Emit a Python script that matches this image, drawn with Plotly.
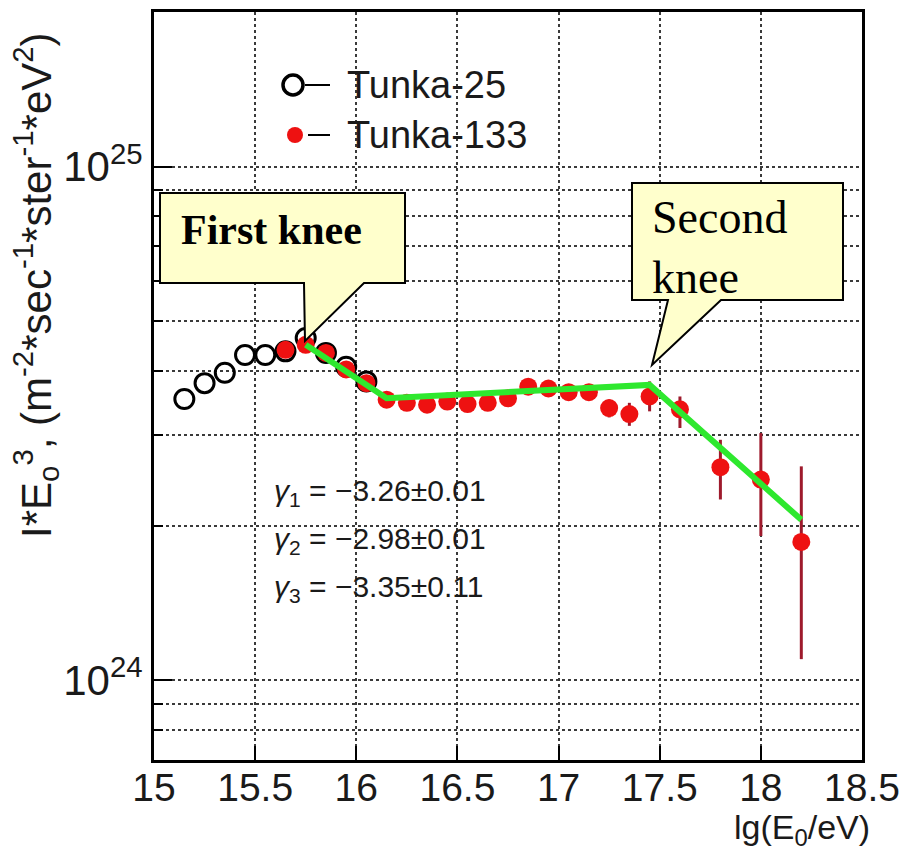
import math
import plotly.graph_objects as go

# ---- data ---------------------------------------------------------------
# lg(E0/eV) bins and I*E^3 values
t25_x = [15.15, 15.25, 15.35, 15.45, 15.55, 15.65, 15.75, 15.85, 15.95, 16.05]
t25_y = [3.53e24, 3.79e24, 3.97e24, 4.30e24, 4.30e24, 4.37e24, 4.64e24, 4.34e24, 4.08e24, 3.82e24]

t133_x = [15.65, 15.75, 15.85, 15.95, 16.05, 16.15, 16.25, 16.35, 16.45, 16.55, 16.65, 16.75,
          16.85, 16.95, 17.05, 17.15, 17.25, 17.35, 17.45, 17.6, 17.8, 18.0, 18.2]
t133_y = [4.40e24, 4.50e24, 4.34e24, 4.03e24, 3.79e24, 3.52e24, 3.47e24, 3.44e24, 3.49e24, 3.45e24,
          3.47e24, 3.54e24, 3.73e24, 3.70e24, 3.64e24, 3.64e24, 3.39e24, 3.30e24, 3.57e24, 3.37e24,
          2.60e24, 2.46e24, 1.86e24]
t133_err_hi = [0.03e24, 0.03e24, 0.03e24, 0.03e24, 0.03e24, 0.03e24, 0.03e24, 0.03e24, 0.03e24, 0.03e24,
               0.03e24, 0.04e24, 0.04e24, 0.04e24, 0.05e24, 0.06e24, 0.13e24, 0.17e24, 0.25e24, 0.20e24,
               0.34e24, 0.57e24, 0.75e24]
t133_err_lo = [0.03e24, 0.03e24, 0.03e24, 0.03e24, 0.03e24, 0.03e24, 0.03e24, 0.03e24, 0.03e24, 0.03e24,
               0.03e24, 0.04e24, 0.04e24, 0.04e24, 0.05e24, 0.06e24, 0.14e24, 0.17e24, 0.23e24, 0.27e24,
               0.35e24, 0.55e24, 0.76e24]

# broken power-law fit: knee positions, normalisation and spectral indices
fit_knee_x = [15.75, 16.15, 17.45, 18.2]
fit_start_y = 4.5e24
gammas = [-3.26, -2.98, -3.35]
gamma_errs = [0.01, 0.01, 0.11]

x_ticks = [15, 15.5, 16, 16.5, 17, 17.5, 18, 18.5]
x_ticklabels = ["15", "15.5", "16", "16.5", "17", "17.5", "18", "18.5"]
y_major = [1e24, 1e25]
y_major_labels = ["10<sup>24</sup>", "10<sup>25</sup>"]
y_minor = [0.8e24, 0.9e24, 2e24, 3e24, 4e24, 5e24, 6e24, 7e24, 8e24, 9e24]

# I*E^3 scales as E^(gamma+3) along each fit segment
fit_y = [fit_start_y]
for i, g in enumerate(gammas):
    dx = fit_knee_x[i + 1] - fit_knee_x[i]
    fit_y.append(fit_y[-1] * 10 ** ((g + 3) * dx))

# ---- geometry helpers (pixel -> paper) ------------------------------------
W, H = 913, 851
ML, MR, MT, MB = 154, 51, 12, 91
PW, PH = W - ML - MR, H - MT - MB


def px(x):
    return (x - ML) / PW


def py(y):
    return (H - MB - y) / PH


fig = go.Figure()

fig.add_trace(go.Scatter(
    x=t25_x, y=t25_y, mode="markers", name="Tunka-25",
    marker=dict(symbol="circle-open", size=19, color="black", line=dict(width=3, color="black")),
))

fig.add_trace(go.Scatter(
    x=t133_x, y=t133_y, mode="markers", name="Tunka-133",
    marker=dict(symbol="circle", size=18, color="#ee1111"),
    error_y=dict(type="data", symmetric=False, array=t133_err_hi, arrayminus=t133_err_lo,
                 color="#9e1a2c", thickness=3, width=0),
))

fig.add_trace(go.Scatter(
    x=fit_knee_x, y=fit_y, mode="lines", name="fit",
    line=dict(color="#2ee82e", width=6),
))

shapes = []
annotations = []

# legend glyphs
shapes.append(dict(type="circle", xref="paper", yref="paper",
                   x0=px(283), x1=px(303), y0=py(95), y1=py(75),
                   line=dict(color="black", width=3.5), fillcolor="rgba(0,0,0,0)"))
shapes.append(dict(type="line", xref="paper", yref="paper",
                   x0=px(305), x1=px(330), y0=py(85), y1=py(85),
                   line=dict(color="black", width=2)))
shapes.append(dict(type="circle", xref="paper", yref="paper",
                   x0=px(287), x1=px(303), y0=py(143), y1=py(127),
                   line=dict(color="#ee1111", width=0), fillcolor="#ee1111"))
shapes.append(dict(type="line", xref="paper", yref="paper",
                   x0=px(308), x1=px(330), y0=py(135), y1=py(135),
                   line=dict(color="black", width=2)))
for label, yy in [("Tunka-25", 85), ("Tunka-133", 135)]:
    annotations.append(dict(text=label, xref="paper", yref="paper", x=px(345), y=py(yy),
                            xanchor="left", yanchor="middle", showarrow=False,
                            font=dict(family="Liberation Sans, Arial", size=38, color="#1a1a1a")))


def callout_path(left, top, right, bottom, tail_l, tail_r, tip):
    pts = [(left, top), (right, top), (right, bottom), (tail_r, bottom), tip,
           (tail_l, bottom), (left, bottom)]
    return "M " + " L ".join(f"{px(a):.5f},{py(b):.5f}" for a, b in pts) + " Z"


shapes.append(dict(type="path", xref="paper", yref="paper",
                   path=callout_path(160, 193, 405, 283, 304, 364, (305, 341)),
                   fillcolor="#ffffcc", line=dict(color="black", width=2)))
shapes.append(dict(type="path", xref="paper", yref="paper",
                   path=callout_path(632, 183, 843, 300, 668, 721, (652, 365)),
                   fillcolor="#ffffcc", line=dict(color="black", width=2)))

annotations.append(dict(text="<b>First knee</b>", xref="paper", yref="paper",
                        x=px(179), y=py(230), xanchor="left", yanchor="middle", showarrow=False,
                        font=dict(family="Liberation Serif, Times New Roman", size=42, color="black")))
annotations.append(dict(text="Second<br>knee", xref="paper", yref="paper",
                        x=px(650), y=py(247), xanchor="left", yanchor="middle", showarrow=False,
                        align="left",
                        font=dict(family="Liberation Serif, Times New Roman", size=46, color="black")))

# spectral index labels
for i, (g, e) in enumerate(zip(gammas, gamma_errs)):
    txt = (f"<i>γ</i><sub>{i + 1}</sub> = −{abs(g):.2f}±{e:.2f}")
    annotations.append(dict(text=txt, xref="paper", yref="paper",
                            x=px(272), y=py(492 + 48 * i), xanchor="left", yanchor="middle",
                            showarrow=False,
                            font=dict(family="Liberation Sans, Arial", size=30, color="#1a1a1a")))

# axis titles
annotations.append(dict(text="I*E<sub>o</sub><sup>3</sup>, (m<sup>-2</sup>*sec<sup>-1</sup>*ster<sup>-1</sup>*eV<sup>2</sup>)",
                        xref="paper", yref="paper", x=px(35), y=py(285), textangle=-90,
                        xanchor="center", yanchor="middle", showarrow=False,
                        font=dict(family="Liberation Sans, Arial", size=42, color="#1a1a1a")))
annotations.append(dict(text="lg(E<sub>0</sub>/eV)", xref="paper", yref="paper",
                        x=px(872), y=py(829), xanchor="right", yanchor="middle", showarrow=False,
                        font=dict(family="Liberation Sans, Arial", size=34, color="#1a1a1a")))

grid = dict(showgrid=True, gridcolor="#3a3a3a", griddash="dot", gridwidth=1.5)

fig.update_layout(
    template="none",
    width=W, height=H,
    margin=dict(l=ML, r=MR, t=MT, b=MB, pad=0),
    paper_bgcolor="white", plot_bgcolor="white",
    showlegend=False,
    shapes=shapes, annotations=annotations,
    xaxis=dict(range=[15, 18.5], tickmode="array", tickvals=x_ticks, ticktext=x_ticklabels,
               ticks="inside", ticklen=14, tickwidth=2, tickcolor="black",
               showline=True, linewidth=3, linecolor="black", mirror=True,
               zeroline=False, automargin=False, ticklabelstandoff=-9,
               tickfont=dict(family="Liberation Sans, Arial", size=39, color="#1a1a1a"),
               **grid),
    yaxis=dict(type="log", range=[math.log10(0.7e24), math.log10(2e25)],
               tickmode="array", tickvals=y_major, ticktext=y_major_labels,
               ticks="inside", ticklen=18, tickwidth=2, tickcolor="black",
               showline=True, linewidth=3, linecolor="black", mirror=True,
               zeroline=False, automargin=False,
               tickfont=dict(family="Liberation Sans, Arial", size=42, color="#1a1a1a"),
               minor=dict(tickmode="array", tickvals=y_minor, ticks="inside", ticklen=9,
                          tickwidth=1.5, tickcolor="black", **grid),
               **grid),
)

fig.write_html("out.html")
